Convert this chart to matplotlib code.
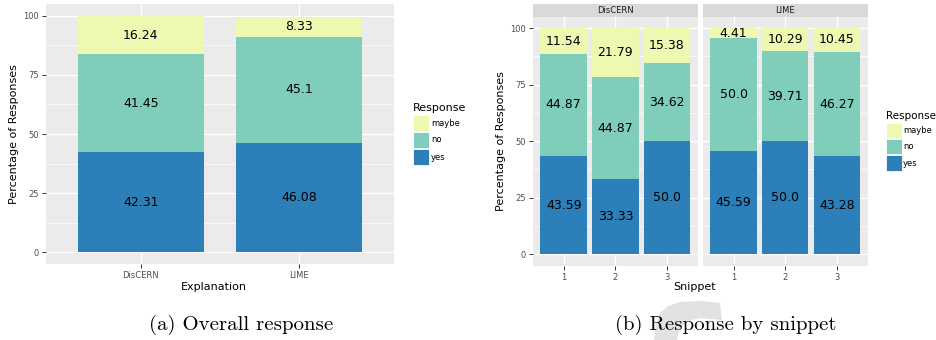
import matplotlib
matplotlib.use("Agg")
import matplotlib.pyplot as plt
from matplotlib.patches import Rectangle, Polygon
import numpy as np

# ---- data ----
explanations = ["DisCERN", "LIME"]
overall_yes = [42.31, 46.08]
overall_no = [41.45, 45.10]
overall_maybe = [16.24, 8.33]

snippets = ["1", "2", "3"]
discern_yes = [43.59, 33.33, 50.0]
discern_no = [44.87, 44.87, 34.62]
discern_maybe = [11.54, 21.79, 15.38]
lime_yes = [45.59, 50.0, 43.28]
lime_no = [50.0, 39.71, 46.27]
lime_maybe = [4.41, 10.29, 10.45]

responses = ["maybe", "no", "yes"]
colors = {"yes": "#2c7fb8", "no": "#7fcdbb", "maybe": "#edf8b1"}
yticks = [0, 25, 50, 75, 100]

W, H = 936, 340
fig = plt.figure(figsize=(W / 100, H / 100), dpi=100)
plt.rcParams['font.family'] = ['DejaVu Sans']

def px(x0, y0, x1, y1):
    return [x0 / W, 1 - y1 / H, (x1 - x0) / W, (y1 - y0) / H]

PANEL = "#ebebeb"
TICKC = "#4d4d4d"

def style(ax, cats, xlim, show_y=True):
    ax.set_facecolor(PANEL)
    for s in ax.spines.values():
        s.set_visible(False)
    ax.set_ylim(-5, 105)
    ax.set_xlim(*xlim)
    ax.set_yticks(yticks)
    ax.set_yticks([12.5, 37.5, 62.5, 87.5], minor=True)
    ax.set_xticks(np.arange(1, len(cats) + 1))
    ax.set_xticklabels(cats)
    ax.grid(which="major", color="white", linewidth=1.0)
    ax.grid(which="minor", axis="y", color="white", linewidth=0.5)
    ax.set_axisbelow(True)
    ax.tick_params(which="major", length=3, width=0.7, color="#333333",
                   labelsize=6, labelcolor=TICKC, pad=2)
    ax.tick_params(which="minor", length=0)
    if not show_y:
        ax.tick_params(axis="y", left=False, labelleft=False)

def stacked(ax, cats, yes, no, maybe, width, fs):
    x = np.arange(1, len(cats) + 1)
    ax.bar(x, yes, width, color=colors["yes"], zorder=2)
    ax.bar(x, no, width, bottom=yes, color=colors["no"], zorder=2)
    b2 = np.array(yes) + np.array(no)
    ax.bar(x, maybe, width, bottom=b2, color=colors["maybe"], zorder=2)
    for xi, a, b, c in zip(x, yes, no, maybe):
        for val, base in ((a, 0), (b, a), (c, a + b)):
            ax.text(xi, base + val / 2, f"{val:g}" if val != 50.0 else "50.0",
                    ha="center", va="center", fontsize=fs, color="black", zorder=3)

def legend(x0, ytitle, ykeys, xlabel, tfs=8):
    fig.text(x0 / W, 1 - ytitle / H, "Response", fontsize=tfs, color="black",
             ha="left", va="center")
    for lab, (y0, y1) in zip(responses, ykeys):
        fig.patches.append(Rectangle((x0 / W, 1 - y1 / H), 15.5 / W, (y1 - y0) / H,
                                     transform=fig.transFigure, facecolor=colors[lab],
                                     edgecolor="white", linewidth=0.6))
        fig.text(xlabel / W, 1 - (y0 + y1) / 2 / H, lab, fontsize=6, color="black",
                 ha="left", va="center")

# watermark fragment (behind everything)
wm = [(654, 340), (656, 325), (660, 313), (668, 306), (680, 302), (700, 301),
      (720, 303), (722, 320), (700, 318), (688, 321), (680, 328), (677, 340)]
fig.patches.append(Polygon([(x / W, 1 - y / H) for x, y in wm], closed=True,
                           transform=fig.transFigure, facecolor="#e2e2e2",
                           edgecolor="none", zorder=0))

# ---- left: overall ----
axL = fig.add_axes(px(46, 4, 394, 264))
style(axL, explanations, (0.4, 2.6))
stacked(axL, explanations, overall_yes, overall_no, overall_maybe, 0.8, 9)
fig.text(214 / W, 1 - 287 / H, "Explanation", fontsize=8, ha="center", va="center")
axL.set_ylabel("Percentage of Responses", fontsize=8, labelpad=3)
legend(413, 108, [(115, 131), (132, 148), (149, 165)], 431)

# ---- right: by snippet ----
axR1 = fig.add_axes(px(532.7, 16.7, 698, 265.7))
axR2 = fig.add_axes(px(702.7, 16.7, 867.7, 265.7))
style(axR1, snippets, (0.4, 3.6))
style(axR2, snippets, (0.4, 3.6), show_y=False)
stacked(axR1, snippets, discern_yes, discern_no, discern_maybe, 0.9, 9)
stacked(axR2, snippets, lime_yes, lime_no, lime_maybe, 0.9, 9)
axR1.set_ylabel("Percentage of Responses", fontsize=8, labelpad=3)
for x0, x1, name in ((532.7, 698, "DisCERN"), (702.7, 867.7, "LIME")):
    sax = fig.add_axes(px(x0, 4, x1, 16.7))
    sax.set_facecolor("#d9d9d9")
    sax.set_xticks([]); sax.set_yticks([])
    for s in sax.spines.values():
        s.set_visible(False)
    sax.text(0.5, 0.5, name, transform=sax.transAxes, ha="center", va="center",
             fontsize=6, color="#1a1a1a")
fig.text(695 / W, 1 - 287 / H, "Snippet", fontsize=8, ha="center", va="center")
legend(886, 116, [(123, 138), (139, 154), (155, 171)], 903, tfs=7.5)

# captions
fig.text(241 / W, 1 - 325 / H, "(a) Overall response", fontsize=15,
         family="cmr10", ha="center", va="center")
fig.text(726 / W, 1 - 325 / H, "(b) Response by snippet", fontsize=15,
         family="cmr10", ha="center", va="center")

fig.savefig("out.png", dpi=100, facecolor="white")
